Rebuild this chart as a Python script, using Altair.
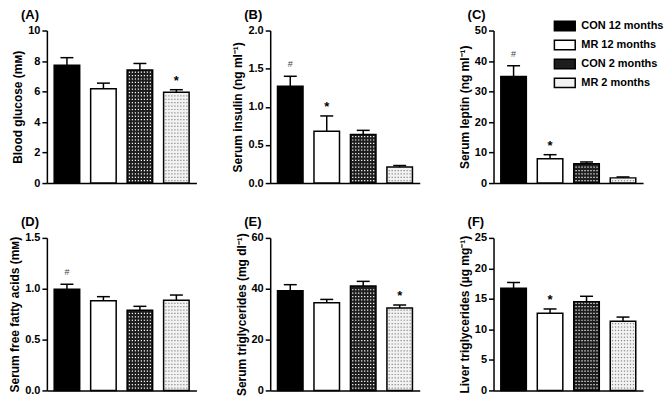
import altair as alt
import pandas as pd

FONT = "Liberation Sans"

groups = ["CON 12 months", "MR 12 months", "CON 2 months", "MR 2 months"]
bar_fills = ["#000000", "#ffffff", "#1e1e1e", "#f2f2f2"]
dot_colors = ["#ffffff", "#8a8a8a"]

letters = ["(A)", "(B)", "(C)", "(D)", "(E)", "(F)"]
y_titles = [
    "Blood glucose (mᴍ)",
    "Serum insulin (ng ml⁻¹)",
    "Serum leptin (ng ml⁻¹)",
    "Serum free fatty acids (mᴍ)",
    "Serum triglycerides (mg dl⁻¹)",
    "Liver triglycerides (µg mg⁻¹)",
]
y_max = [10, 2.0, 50, 1.5, 60, 25]
y_ticks = [
    [0, 2, 4, 6, 8, 10],
    [0.0, 0.5, 1.0, 1.5, 2.0],
    [0, 10, 20, 30, 40, 50],
    [0.0, 0.5, 1.0, 1.5],
    [0, 20, 40, 60],
    [0, 5, 10, 15, 20, 25],
]
y_formats = ["d", ".1f", "d", ".1f", "d", "d"]

glucose_mean = [7.73, 6.19, 7.42, 5.95]
glucose_sem = [0.49, 0.36, 0.42, 0.17]
insulin_mean = [1.27, 0.68, 0.636, 0.21]
insulin_sem = [0.13, 0.20, 0.055, 0.02]
leptin_mean = [34.96, 7.94, 6.36, 1.7]
leptin_sem = [3.5, 1.36, 0.55, 0.3]
ffa_mean = [0.996, 0.881, 0.788, 0.887]
ffa_sem = [0.048, 0.041, 0.039, 0.051]
serum_tg_mean = [39.2, 34.5, 41.1, 32.4]
serum_tg_sem = [2.4, 1.3, 1.8, 1.2]
liver_tg_mean = [16.76, 12.66, 14.52, 11.33]
liver_tg_sem = [0.94, 0.69, 0.91, 0.69]

glucose_sig = ["", "", "", "*"]
insulin_sig = ["#", "*", "", ""]
leptin_sig = ["#", "*", "", ""]
ffa_sig = ["#", "", "", ""]
serum_tg_sig = ["", "", "", "*"]
liver_tg_sig = ["", "*", "", ""]

means = [glucose_mean, insulin_mean, leptin_mean, ffa_mean, serum_tg_mean, liver_tg_mean]
sems = [glucose_sem, insulin_sem, leptin_sem, ffa_sem, serum_tg_sem, liver_tg_sem]
sigs = [glucose_sig, insulin_sig, leptin_sig, ffa_sig, serum_tg_sig, liver_tg_sig]

W, H = 150, 153
BAR_W = 25.6

legend = alt.Legend(
    orient="none", legendX=509, legendY=-15, title=None,
    symbolType="M-1.1,-0.5H1.1V0.5H-1.1Z", symbolSize=361,
    symbolStrokeColor="black", symbolStrokeWidth=1.5,
    labelFontSize=11, labelFontWeight="bold", labelFont=FONT,
    labelColor="black", labelOffset=6, rowPadding=0,
)


def panel(i):
    df = pd.DataFrame({
        "group": groups,
        "mean": means[i],
        "top": [m + s for m, s in zip(means[i], sems[i])],
        "sig": sigs[i],
    })
    base = alt.Chart(df)
    xscale = alt.Scale(type="band", paddingInner=0.3, paddingOuter=0.2)
    xaxis = alt.Axis(labels=False, ticks=False, title=None, domain=True, grid=False)
    xenc = alt.X("group:N", sort=groups, scale=xscale, axis=xaxis)
    yscale = alt.Scale(domain=[0, y_max[i]], nice=False, zero=True)
    yaxis = alt.Axis(values=y_ticks[i], format=y_formats[i], title=y_titles[i], grid=False,
                     labelOverlap=False, labelBound=False)

    def Y(f):
        return alt.Y(f, type="quantitative", scale=yscale, axis=yaxis)

    bars = base.mark_bar(stroke="black", strokeWidth=1.5, width=BAR_W).encode(
        x=xenc,
        y=Y("mean"),
        fill=alt.Fill("group:N", scale=alt.Scale(domain=groups, range=bar_fills), legend=legend),
    )
    step = y_max[i] * 3.4 / H
    dots = base.transform_filter(
        alt.FieldOneOfPredicate(field="group", oneOf=groups[2:])
    ).transform_calculate(
        rows=f"sequence({step * 0.7}, datum.mean - {step * 0.3}, {step})",
        cols="sequence(0, 8)",
    ).transform_flatten(["rows"]).transform_flatten(["cols"]).mark_square(
        size=1.5, strokeWidth=0, opacity=1,
        xOffset=alt.ExprRef(expr="(datum.cols - 3.5) * 3.0"),
    ).encode(
        x=xenc,
        y=Y("rows"),
        color=alt.Color("group:N", scale=alt.Scale(domain=groups[2:], range=dot_colors), legend=None),
    )
    rule = base.mark_rule(strokeWidth=1.5, color="black").encode(
        x=xenc, y=Y("mean"), y2="top:Q"
    )
    cap = base.mark_tick(size=13, thickness=1.5, color="black", opacity=1).encode(
        x=xenc, y=Y("top")
    )
    stars = base.transform_filter("datum.sig == '*'").mark_text(
        fontSize=13, fontWeight="bold", font=FONT, baseline="bottom", dy=-2, color="black"
    ).encode(x=xenc, y=Y("top"), text="sig:N")
    hashes = base.transform_filter("datum.sig == '#'").mark_text(
        fontSize=9, font=FONT, baseline="bottom", dy=-7, color="#444444"
    ).encode(x=xenc, y=Y("top"), text="sig:N")
    return alt.layer(bars, dots, rule, cap, stars, hashes).properties(
        width=W, height=H,
        title=alt.TitleParams(
            letters[i], anchor="start", frame="group", dx=-26, offset=3,
            fontSize=13, fontWeight="bold", font=FONT, color="black",
        ),
    )


panels = [panel(i) for i in range(6)]

chart = alt.concat(
    *panels, columns=3, spacing={"row": 55, "column": 74}, bounds="flush"
).resolve_scale(
    fill="shared", color="shared"
).properties(padding=0).configure_view(stroke=None).configure_axis(
    domainColor="black", domainWidth=1.5, tickColor="black", tickWidth=1.5, tickSize=5,
    labelFont=FONT, labelFontSize=11, labelFontWeight="bold", labelColor="black", labelPadding=2,
    titleFont=FONT, titleFontSize=12, titleFontWeight="bold", titleColor="black", titlePadding=3,
)

chart.save("out.html", embed_options={"renderer": "svg", "actions": False})
